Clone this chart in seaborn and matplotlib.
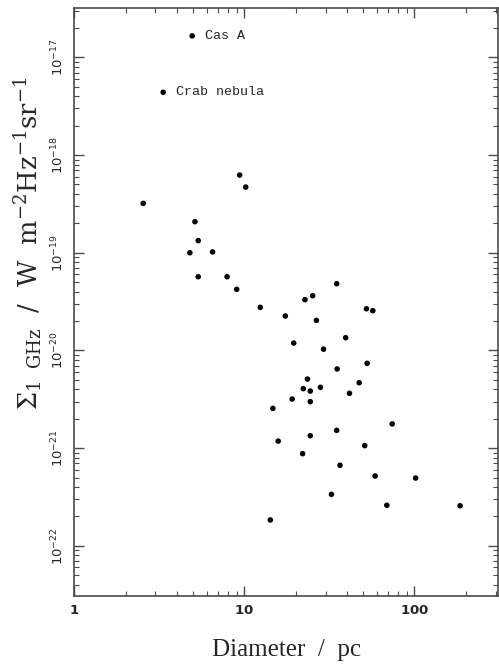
import numpy as np
import pandas as pd
import matplotlib
matplotlib.use("Agg")
import matplotlib.pyplot as plt
import seaborn as sns
from matplotlib.ticker import LogLocator, FixedLocator, FuncFormatter, NullFormatter

# --- data (diameter in pc, surface brightness at 1 GHz) ---
diameter = [4.93, 3.33, 9.38, 10.18, 2.54, 5.12, 5.35, 4.78, 6.50, 5.35, 7.91, 9.01,
            12.4, 17.4, 22.7, 25.2, 34.9, 26.5, 52.2, 56.9, 19.5, 39.4, 29.2, 35.1,
            52.7, 23.5, 22.2, 24.4, 28.0, 47.3, 41.5, 19.1, 24.4, 14.7, 74.0, 34.9,
            24.4, 15.8, 51.0, 22.0, 36.5, 58.7, 101.6, 32.5, 68.8, 185.5, 14.2]
sigma = [1.66e-17, 4.39e-18, 6.24e-19, 4.70e-19, 3.20e-19, 2.08e-19, 1.33e-19, 1.00e-19,
         1.02e-19, 5.68e-20, 5.68e-20, 4.22e-20, 2.76e-20, 2.25e-20, 3.31e-20, 3.63e-20,
         4.82e-20, 2.03e-20, 2.67e-20, 2.55e-20, 1.19e-20, 1.35e-20, 1.03e-20, 6.46e-21,
         7.38e-21, 5.09e-21, 4.06e-21, 3.84e-21, 4.19e-21, 4.67e-21, 3.64e-21, 3.18e-21,
         2.99e-21, 2.55e-21, 1.77e-21, 1.52e-21, 1.34e-21, 1.18e-21, 1.06e-21, 8.77e-22,
         6.67e-22, 5.18e-22, 4.94e-22, 3.36e-22, 2.60e-22, 2.57e-22, 1.84e-22]
names = ["Cas A", "Crab nebula"] + [""] * (len(diameter) - 2)

df = pd.DataFrame({"D": diameter, "S": sigma, "name": names})

sns.set_theme(style="ticks")
plt.rcParams["font.family"] = ["DejaVu Serif"]
# serif roman for the axis labels, bold sans for the tick numbers
plt.rcParams["mathtext.fontset"] = "custom"
plt.rcParams["mathtext.rm"] = "DejaVu Serif"
plt.rcParams["mathtext.it"] = "DejaVu Serif:italic"
plt.rcParams["mathtext.bf"] = "DejaVu Sans:bold"
plt.rcParams["mathtext.sf"] = "DejaVu Sans"

AXIS_GREY = "#4a4a4a"

fig = plt.figure(figsize=(4.99, 6.70), dpi=100)
ax = fig.add_axes([0.149, 0.111, 0.849, 0.877])

sns.scatterplot(data=df, x="D", y="S", color="black", s=16, edgecolor="none", ax=ax, legend=False)

ax.set_xscale("log")
ax.set_yscale("log")
ax.set_xlim(1, 310)
ax.set_ylim(10 ** -22.51, 10 ** -16.495)

# labels for the two named remnants
for _, row in df[df["name"] != ""].iterrows():
    ax.annotate(row["name"], xy=(row["D"], row["S"]), xytext=(9, 0),
                textcoords="offset points", ha="left", va="center",
                fontsize=9.6, family="Liberation Mono")

# ticks: inward on all four sides
ax.xaxis.set_major_locator(FixedLocator([1, 10, 100]))
ax.xaxis.set_minor_locator(LogLocator(base=10, subs=np.arange(2, 10)))
ax.xaxis.set_minor_formatter(NullFormatter())
ax.xaxis.set_major_formatter(FuncFormatter(lambda v, p: r"$\mathbf{%g}$" % v))
ax.yaxis.set_major_locator(FixedLocator([1e-22, 1e-21, 1e-20, 1e-19, 1e-18, 1e-17]))
ax.yaxis.set_minor_locator(LogLocator(base=10, subs=np.arange(2, 10)))
ax.yaxis.set_minor_formatter(NullFormatter())
ax.yaxis.set_major_formatter(FuncFormatter(lambda v, p: r"$\mathsf{10^{%d}}$" % round(np.log10(v))))

ax.tick_params(which="both", direction="in", top=True, right=True, color=AXIS_GREY)
ax.tick_params(which="major", length=7, width=1.0, labelsize=9.5, pad=6)
ax.tick_params(which="minor", length=3.5, width=0.8)
for lab in ax.get_yticklabels():
    lab.set_rotation(90)
    lab.set_va("center")
for sp in ax.spines.values():
    sp.set_color(AXIS_GREY)
    sp.set_linewidth(1.2)

ax.set_xlabel("Diameter  /  pc", fontsize=18, family="Liberation Serif", labelpad=16)
ax.set_ylabel(r"$\Sigma_{1\ \ \mathrm{GHz}}$  /  W  m$^{-2}$Hz$^{-1}$sr$^{-1}$", fontsize=18.5)
ax.yaxis.set_label_coords(-0.072, 0.60)

fig.savefig("out.png", dpi=100)
